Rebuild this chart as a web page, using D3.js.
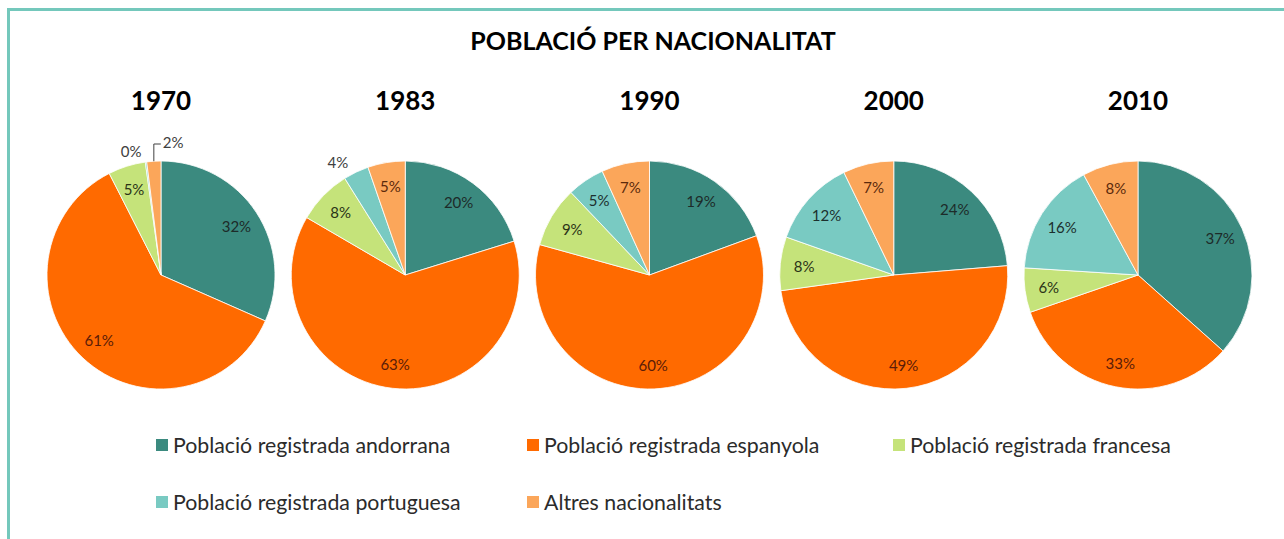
<!DOCTYPE html>
<html><head><meta charset="utf-8">
<script src="https://cdn.jsdelivr.net/npm/d3@7"></script>
<style>body{margin:0;background:#fff}svg{display:block}</style>
</head><body><svg id="c" width="1284" height="539"></svg>
<script>
const title = "POBLACIÓ PER NACIONALITAT";
const years = ["1970", "1983", "1990", "2000", "2010"];
const categories = ["Població registrada andorrana", "Població registrada espanyola", "Població registrada francesa", "Població registrada portuguesa", "Altres nacionalitats"];
const andorrana  = [31.6, 20.2, 19.4, 23.7, 36.6];
const espanyola  = [60.9, 63.2, 59.9, 49.1, 33.1];
const francesa   = [5.3, 7.7, 8.6, 7.6, 6.3];
const portuguesa = [0.2, 3.6, 5.3, 12.4, 16.1];
const altres     = [2.0, 5.3, 6.8, 7.2, 7.9];

const series = [andorrana, espanyola, francesa, portuguesa, altres];
const colors = ["#3b8a7f", "#ff6a00", "#c5e37a", "#79cac2", "#fba65a"];
const labelColors = ["#1d2b29", "#5b1c08", "#2b3317", "#1c302e", "#5b2a0c"];
const FONT = "Lato, 'Open Sans', sans-serif";

const svg = d3.select("#c");
svg.append("path").attr("d", "M8.5,539 V9.5 H1284")
  .attr("fill", "none").attr("stroke", "#74c8bc").attr("stroke-width", 3);

svg.append("text").attr("x", 653).attr("y", 50).attr("text-anchor", "middle")
  .attr("font-family", FONT).attr("font-weight", 700).attr("font-size", 25).attr("fill", "#000")
  .text(title);

const x = d3.scalePoint().domain(years).range([161, 1138]);
const cy = 275, R = 114;
const pie = d3.pie().sort(null).value(d => d.v);
const arc = d3.arc().innerRadius(0).outerRadius(R);
const fmt = v => Math.round(v) + "%";

years.forEach((yr, j) => {
  const data = categories.map((c, i) => ({ c, i, v: series[i][j] }));
  const g = svg.append("g").attr("transform", `translate(${x(yr)},${cy})`);
  g.append("text").attr("x", 0).attr("y", -165).attr("text-anchor", "middle")
    .attr("font-family", FONT).attr("font-weight", 700).attr("font-size", 26).attr("fill", "#000")
    .text(yr);
  const arcs = pie(data);
  g.selectAll("path.slice").data(arcs).join("path").attr("class", "slice")
    .attr("d", arc).attr("fill", d => colors[d.data.i])
    .attr("stroke", "#fff").attr("stroke-width", 0.8);
  const outside = arcs.filter(a => a.data.v < 4.5);
  arcs.forEach(a => {
    const mid = (a.startAngle + a.endAngle) / 2;
    const sx = Math.sin(mid), sy = -Math.cos(mid);
    const t = g.append("text").attr("font-family", FONT).attr("font-size", 15)
      .attr("dominant-baseline", "central").text(fmt(a.data.v));
    if (a.data.v >= 4.5) {
      const rr = R * 0.79;
      t.attr("x", sx * rr).attr("y", sy * rr).attr("text-anchor", "middle").attr("fill", labelColors[a.data.i]);
    } else if (outside.length > 1 && a === outside[outside.length - 1]) {
      const ex = sx * R, ey = sy * R, ly = -(R + 17);
      g.append("path").attr("d", `M${ex},${ey} V${ly} H${ex + 7}`)
        .attr("fill", "none").attr("stroke", "#404040").attr("stroke-width", 1);
      t.attr("x", ex + 9).attr("y", ly - 2).attr("text-anchor", "start").attr("fill", "#404040");
    } else {
      const rr = R + 11;
      t.attr("x", sx * rr - 3).attr("y", sy * rr).attr("text-anchor", sx < 0 ? "end" : "start").attr("fill", "#404040");
    }
  });
});

// legend
const legCols = [156, 527, 893], legRows = [445, 502];
const legPos = [[0, 0], [1, 0], [2, 0], [0, 1], [1, 1]];
categories.forEach((c, i) => {
  const [ci, ri] = legPos[i];
  const lx = legCols[ci], ly = legRows[ri];
  svg.append("rect").attr("x", lx).attr("y", ly - 6).attr("width", 12).attr("height", 12).attr("fill", colors[i]);
  svg.append("text").attr("x", lx + 17).attr("y", ly).attr("dominant-baseline", "central")
    .attr("font-family", FONT).attr("font-size", 21.3).attr("fill", "#2b2b2b").text(c);
});
</script>
</body></html>
